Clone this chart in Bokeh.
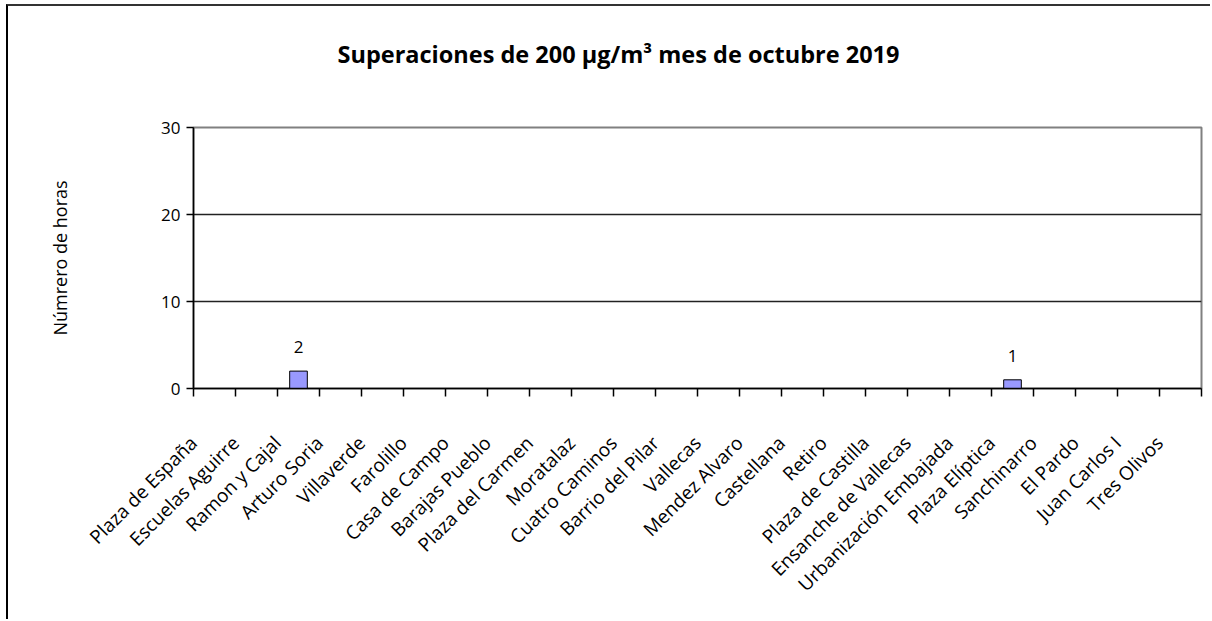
import math
from bokeh.plotting import figure
from bokeh.models import (Range1d, LinearAxis, FixedTicker, ColumnDataSource)
from bokeh.core.properties import value
from bokeh.embed import file_html
from bokeh.resources import INLINE

# ---- data ----
stations = ["Plaza de España", "Escuelas Aguirre", "Ramon y Cajal", "Arturo Soria",
            "Villaverde", "Farolillo", "Casa de Campo", "Barajas Pueblo",
            "Plaza del Carmen", "Moratalaz", "Cuatro Caminos", "Barrio del Pilar",
            "Vallecas", "Mendez Alvaro", "Castellana", "Retiro", "Plaza de Castilla",
            "Ensanche de Vallecas", "Urbanización Embajada", "Plaza Elíptica",
            "Sanchinarro", "El Pardo", "Juan Carlos I", "Tres Olivos"]
horas = [0, 0, 2, 0, 0, 0, 0, 0, 0, 0, 0, 0, 0, 0, 0, 0, 0, 0, 0, 1, 0, 0, 0, 0]
y_ticks = [0, 10, 20, 30]
title_text = "Superaciones de 200 µg/m³ mes de octubre 2019"
y_label = "Númrero de horas"

FONT = "Open Sans"
FS = "17px"
LABEL_SHIFT = 0.5

n = len(stations)
xpos = [i + 0.5 for i in range(n)]   # category centres

p = figure(width=1204, height=615,
           x_range=Range1d(0, n), y_range=Range1d(0, 30),
           output_backend="svg", toolbar_location=None,
           x_axis_location=None, y_axis_location=None,
           min_border_left=185, min_border_right=11,
           min_border_top=121, min_border_bottom=233)
p.styles = {"margin-left": "6px", "margin-top": "4px",
            "border-left": "2px solid black", "border-top": "2px solid #333333"}
p.background_fill_color = "white"
p.border_fill_color = "white"
p.outline_line_color = "#808080"
p.outline_line_width = 2

# title
p.title.text = title_text
p.title.text_font = FONT
p.title.text_font_size = "23.5px"
p.title.text_font_style = "bold"
p.title.text_color = "black"
p.title.align = "left"
p.title.offset = 144
p.title.standoff = 10
p.title.padding = dict(left=0, right=0, top=0, bottom=53)

# y axis
yax = LinearAxis(ticker=FixedTicker(ticks=y_ticks))
yax.axis_line_color = "black"
yax.axis_line_width = 1.5
yax.major_tick_line_color = "black"
yax.major_tick_line_width = 1.5
yax.major_tick_in = 0
yax.major_tick_out = 7
yax.minor_tick_line_color = None
yax.major_label_text_font = FONT
yax.major_label_text_font_size = FS
yax.major_label_text_color = "black"
yax.major_label_standoff = 6
yax.axis_label = y_label
yax.axis_label_text_font = FONT
yax.axis_label_text_font_size = "18px"
yax.axis_label_text_font_style = "normal"
yax.axis_label_text_color = "black"
yax.axis_label_standoff = 86
p.add_layout(yax, "left")

p.ygrid.ticker = FixedTicker(ticks=y_ticks[1:-1])
p.ygrid.grid_line_color = "#222222"
p.ygrid.grid_line_width = 1.5
p.xgrid.grid_line_color = None

# x axis: names (major, rotated) + category boundary ticks (minor)
p.extra_x_ranges = {"lab": Range1d(-0.5 + LABEL_SHIFT, n - 0.5 + LABEL_SHIFT)}
boundaries = [k - 0.5 + LABEL_SHIFT for k in range(n + 1)]
overrides = {}
for i, s in enumerate(stations):
    overrides[i] = s
    overrides[str(i)] = s
xl = LinearAxis(x_range_name="lab",
                ticker=FixedTicker(ticks=list(range(n)), minor_ticks=boundaries),
                major_label_overrides=overrides)
xl.axis_line_color = "black"
xl.axis_line_width = 1.5
xl.major_tick_line_color = None
xl.major_tick_out = 0
xl.major_tick_in = 0
xl.minor_tick_line_color = "black"
xl.minor_tick_line_width = 1.5
xl.minor_tick_in = 0
xl.minor_tick_out = 8
xl.major_label_orientation = math.pi / 4
xl.major_label_text_font = FONT
xl.major_label_text_font_size = "19px"
xl.major_label_text_color = "black"
xl.major_label_standoff = 43
p.add_layout(xl, "below")

# bars
src = ColumnDataSource(dict(x=xpos, y=horas))
p.vbar(x="x", top="y", width=0.42, source=src, fill_color="#9999FF",
       line_color="black", line_width=1)

# data labels (non-zero only)
lx = [x for x, v in zip(xpos, horas) if v > 0]
ly = [v for v in horas if v > 0]
lt = [str(v) for v in ly]
p.text(x=lx, y=ly, text=lt, text_font=value(FONT), text_font_size=FS,
       text_align="center", text_baseline="middle", y_offset=-24,
       text_color="black")

open("out.html", "w").write(file_html(p, INLINE))
